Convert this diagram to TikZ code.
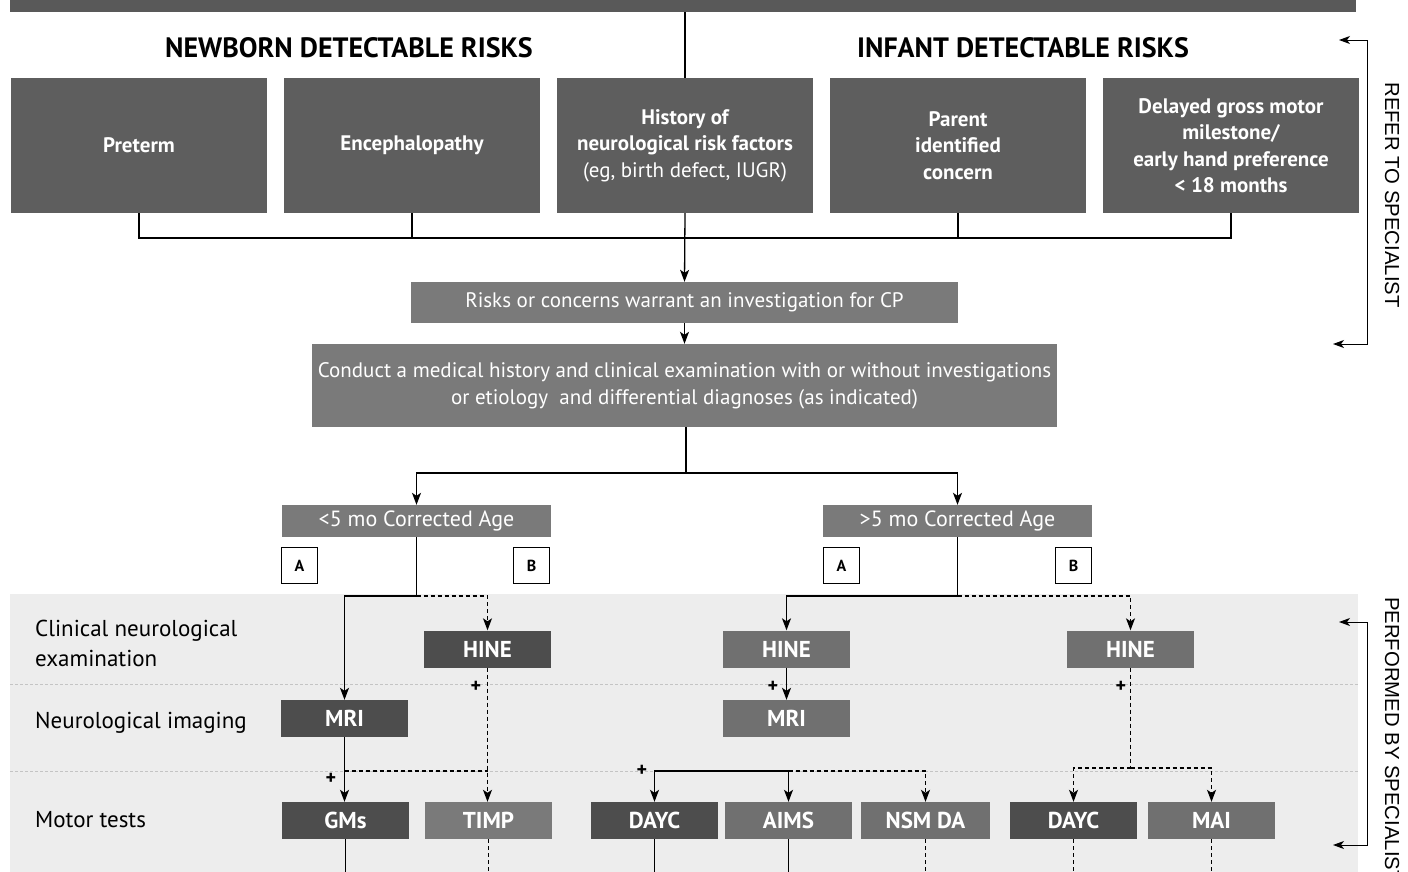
\documentclass[tikz,border=0pt]{standalone}
\usepackage{fontspec}
\setmainfont{PT Sans}
\newfontfamily\thinfont{Liberation Sans}
\usetikzlibrary{arrows.meta}
\definecolor{cbar}{HTML}{595959}
\definecolor{ctop}{HTML}{5E5E5E}
\definecolor{cmid}{HTML}{7A7A7A}
\definecolor{cdk}{HTML}{4D4D4D}
\definecolor{cmd}{HTML}{707070}
\definecolor{cbg}{HTML}{EDEDED}
\definecolor{csep}{HTML}{C4C4C4}
\begin{document}
\begin{tikzpicture}[x=1pt,y=-1pt,
  box/.style={fill=#1, text=white, inner sep=0pt, align=center},
  topbox/.style={box=ctop, minimum width=256pt, minimum height=135pt, font=\bfseries\fontsize{21}{26.5}\selectfont},
  midbox/.style={box=cmid, font=\fontsize{21}{27}\selectfont},
  agebox/.style={box=cmid, minimum width=269pt, minimum height=32pt, font=\fontsize{22}{26}\selectfont},
  tbox/.style={box=#1, minimum width=127pt, minimum height=37pt, font=\bfseries\fontsize{23}{26}\selectfont},
  abbox/.style={draw=black, line width=0.7pt, fill=white, minimum width=36pt, minimum height=36pt, inner sep=0pt, font=\bfseries\fontsize{16}{18}\selectfont},
  hdr/.style={font=\bfseries\fontsize{28}{32}\selectfont},
  rowlbl/.style={anchor=west, align=left, inner sep=0pt, font=\fontsize{23}{30}\selectfont},
  side/.style={rotate=-90, inner sep=0pt, font=\thinfont\fontsize{20.3}{22}\selectfont},
  plus/.style={inner sep=0pt, font=\bfseries\fontsize{20}{20}\selectfont},
  ln/.style={draw=black, line width=1.3pt},
  dln/.style={draw=black, line width=1.2pt, dash pattern=on 4pt off 3pt},
  tip/.style={-{Stealth[length=12pt,width=9pt,inset=3pt]}},
  arr/.style={ln, tip},
  darr/.style={dln, tip},
  sarr/.style={draw=black, line width=1pt, {Stealth[length=11pt,width=8pt,inset=3pt]}-{Stealth[length=11pt,width=8pt,inset=3pt]}},
  sep/.style={draw=csep, line width=0.8pt, dash pattern=on 3pt off 2pt}
]
\useasboundingbox (0,0) rectangle (1408,871);

% lower background
\node[fill=cbg, minimum width=1348pt, minimum height=280pt, anchor=north west, inner sep=0pt] (bg) at (10,594) {};
\coordinate (s1l) at (10,684); \coordinate (s1r) at (1358,684);
\coordinate (s2l) at (10,771); \coordinate (s2r) at (1358,771);
\draw[sep] (s1l) -- (s1r);
\draw[sep] (s2l) -- (s2r);

% top bar
\node[fill=cbar, minimum width=1346pt, minimum height=14pt, inner sep=0pt, anchor=north west] (bar) at (10,-2) {};

% headers
\node[hdr] (hN) at (349,48) {NEWBORN DETECTABLE RISKS};
\node[hdr] (hI) at (1023,48) {INFANT DETECTABLE RISKS};

% risk boxes
\node[topbox] (pre) at (139,145.5) {Preterm};
\node[topbox] (enc) at (412,145.5) {Encephalopathy};
\node[topbox] (his) at (685,145.5) {History of\\neurological risk factors\\{\mdseries(eg, birth defect, IUGR)}};
\node[topbox] (par) at (958,145.5) {Parent\\identified\\concern};
\node[topbox] (del) at (1231,145.5) {Delayed gross motor\\milestone/\\early hand preference\\{<} 18 months};

% process boxes
\node[midbox, minimum width=547pt, minimum height=41pt] (risk) at (684.5,302.5) {Risks or concerns warrant an investigation for CP};
\node[midbox, minimum width=745pt, minimum height=83pt] (cond) at (684.5,385.5) {Conduct a medical history and clinical examination with or without investigations\\or etiology\ \ and differential diagnoses (as indicated)};

\node[agebox] (lt5) at (416.5,521) {<5 mo Corrected Age};
\node[agebox] (gt5) at (957.5,521) {>5 mo Corrected Age};

\node[abbox] (a1) at (299.5,565.5) {A};
\node[abbox] (b1) at (531.5,565.5) {B};
\node[abbox] (a2) at (841.5,565.5) {A};
\node[abbox] (b2) at (1073.5,565.5) {B};

% row labels
\node[rowlbl] (l1) at (35,643) {Clinical neurological\\examination};
\node[rowlbl] (l2) at (35,723) {Neurological imaging};
\node[rowlbl] (l3) at (35,820) {Motor tests};

% test boxes
\node[tbox=cdk] (hine1) at (487.5,649) {HINE};
\node[tbox=cdk] (mri1) at (344.5,718.5) {MRI};
\node[tbox=cdk] (gms) at (345.5,820.5) {GMs};
\node[tbox=cmid] (timp) at (488.5,820.5) {TIMP};
\node[tbox=cmd] (hine2) at (786.5,649) {HINE};
\node[tbox=cmd] (mri2) at (786.5,718.5) {MRI};
\node[tbox=cmd] (hine3) at (1130.5,649) {HINE};
\node[tbox=cdk] (dayc1) at (654.5,820.5) {DAYC};
\node[tbox=cmd] (aims) at (788.5,820.5) {AIMS};
\node[tbox=cmd, minimum width=129pt] (nsm) at (925.5,820.5) {NSM DA};
\node[tbox=cdk] (dayc2) at (1073.5,820.5) {DAYC};
\node[tbox=cmd] (mai) at (1211.5,820.5) {MAI};

% top connectors
\draw[ln] (his.north |- bar.south) -- (his.north);
\coordinate (bus) at (685,238);
\draw[ln] (pre.south) |- (bus) -| (del.south);
\draw[ln] (enc.south) -- (enc.south |- bus);
\draw[ln] (par.south) -- (par.south |- bus);
\draw[arr] (his.south) -- (risk.north);
\draw[arr] (risk.south) -- (cond.north);
\coordinate (sp) at (686,473);
\draw[ln] (cond.south -| sp) -- (sp);
\draw[arr] (sp) -| (lt5.north);
\draw[arr] (sp) -| (gt5.north);

% <5 branch
\coordinate (j1) at (416.5,596);
\draw[ln] (lt5.south) -- (j1);
\draw[arr] (j1) -| (mri1.north);
\draw[darr] (j1) -| (hine1.north);
\draw[arr] (mri1.south) -- (mri1.south |- gms.north);
\draw[darr] (hine1.south) -- (hine1.south |- timp.north);
\coordinate (k1) at (344.5,771);
\draw[dln] (k1) -- (k1 -| hine1.south);
\node[plus] (p1) at (331,779) {+};
\node[plus] (p2) at (476,687) {+};

% >5 branch
\coordinate (j2) at (957.5,596);
\draw[ln] (gt5.south) -- (j2);
\draw[arr] (j2) -| (hine2.north);
\draw[darr] (j2) -| (hine3.north);
\draw[arr] (hine2.south) -- (mri2.north);
\node[plus] (p3) at (773,687) {+};
\coordinate (j3) at (788.5,771);
\draw[arr] (j3) -| (dayc1.north);
\draw[arr] (j3) -- (aims.north);
\draw[darr] (j3) -| (nsm.north);
\node[plus] (p4) at (642,771) {+};
\coordinate (j4) at (1130.5,768);
\draw[dln] (hine3.south) -- (j4);
\draw[darr] (j4) -| (dayc2.north);
\draw[darr] (j4) -| (mai.north);
\node[plus] (p5) at (1121,687) {+};

% bottom stubs
\coordinate (bot) at (0,875);
\draw[ln] (gms.south) -- (gms.south |- bot);
\draw[dln] (timp.south) -- (timp.south |- bot);
\draw[ln] (dayc1.south) -- (dayc1.south |- bot);
\draw[ln] (aims.south) -- (aims.south |- bot);
\draw[dln] (nsm.south) -- (nsm.south |- bot);
\draw[dln] (dayc2.south) -- (dayc2.south |- bot);
\draw[dln] (mai.south) -- (mai.south |- bot);

% side brackets
\coordinate (rx) at (1367,0);
\coordinate (ra) at (1339,40); \coordinate (rb) at (1333,344);
\draw[sarr] (ra) -- (ra -| rx) |- (rb);
\coordinate (rc) at (1339,622); \coordinate (rd) at (1333,845);
\draw[sarr] (rc) -- (rc -| rx) |- (rd);
\node[side] (refer) at (1392,195) {REFER TO SPECIALIST};
\node[side, anchor=west] (perf) at (1392,597) {PERFORMED BY SPECIALIST};
\end{tikzpicture}
\end{document}
